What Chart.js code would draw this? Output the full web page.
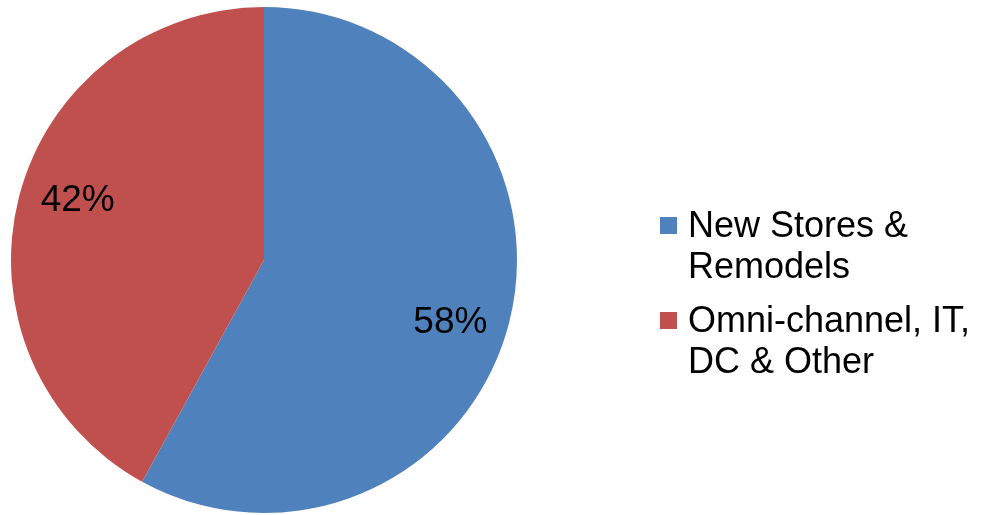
<!DOCTYPE html>
<html>
<head>
<meta charset="utf-8">
<script src="https://cdn.jsdelivr.net/npm/chart.js@4/dist/chart.umd.min.js"></script>
<style>
  html, body { margin: 0; padding: 0; background: #fff; }
  #wrap { width: 984px; height: 515px; position: relative; }
</style>
</head>
<body>
<div id="wrap"><canvas id="pie-chart" width="984" height="515"></canvas></div>
<script>
const categories = [['New Stores &', 'Remodels'], ['Omni-channel, IT,', 'DC & Other']];
const shares = [58, 42];
const sliceColors = ['#4F81BD', '#C0504D'];

const FONT = '"Liberation Sans", Arial, sans-serif';

// percent labels inside each slice
const sliceLabels = {
  id: 'sliceLabels',
  afterDatasetsDraw(chart) {
    const ctx = chart.ctx;
    const meta = chart.getDatasetMeta(0);
    const total = shares.reduce((a, b) => a + b, 0);
    ctx.save();
    ctx.font = '37px ' + FONT;
    ctx.fillStyle = '#000';
    ctx.textAlign = 'center';
    ctx.textBaseline = 'middle';
    meta.data.forEach((arc, i) => {
      const mid = (arc.startAngle + arc.endAngle) / 2 + 0.065;
      const r = arc.outerRadius * 0.775;
      const x = arc.x + Math.cos(mid) * r;
      const y = arc.y + Math.sin(mid) * r + 2;
      ctx.fillText(Math.round(shares[i] / total * 100) + '%', x, y);
    });
    ctx.restore();
  }
};

// legend on the right with wrapped labels
const sideLegend = {
  id: 'sideLegend',
  afterDraw(chart) {
    const ctx = chart.ctx;
    const left = 660, lineH = 41, gap = 13;
    let y = 237;
    ctx.save();
    ctx.font = '36px ' + FONT;
    ctx.textBaseline = 'alphabetic';
    ctx.textAlign = 'left';
    categories.forEach((lines, i) => {
      ctx.fillStyle = sliceColors[i];
      ctx.fillRect(left, y - 20, 17, 17);
      ctx.fillStyle = '#000';
      lines.forEach((t, j) => ctx.fillText(t, left + 28, y + j * lineH));
      y += lines.length * lineH + gap;
    });
    ctx.restore();
  }
};

new Chart(document.getElementById('pie-chart'), {
  type: 'pie',
  data: {
    labels: categories.map(l => l.join(' ')),
    datasets: [{
      data: shares,
      backgroundColor: sliceColors,
      borderWidth: 0
    }]
  },
  options: {
    responsive: false,
    animation: false,
    layout: { padding: { left: 11, right: 467, top: 7, bottom: 2 } },
    plugins: {
      legend: { display: false },
      tooltip: { enabled: false }
    }
  },
  plugins: [sliceLabels, sideLegend]
});
</script>
</body>
</html>
